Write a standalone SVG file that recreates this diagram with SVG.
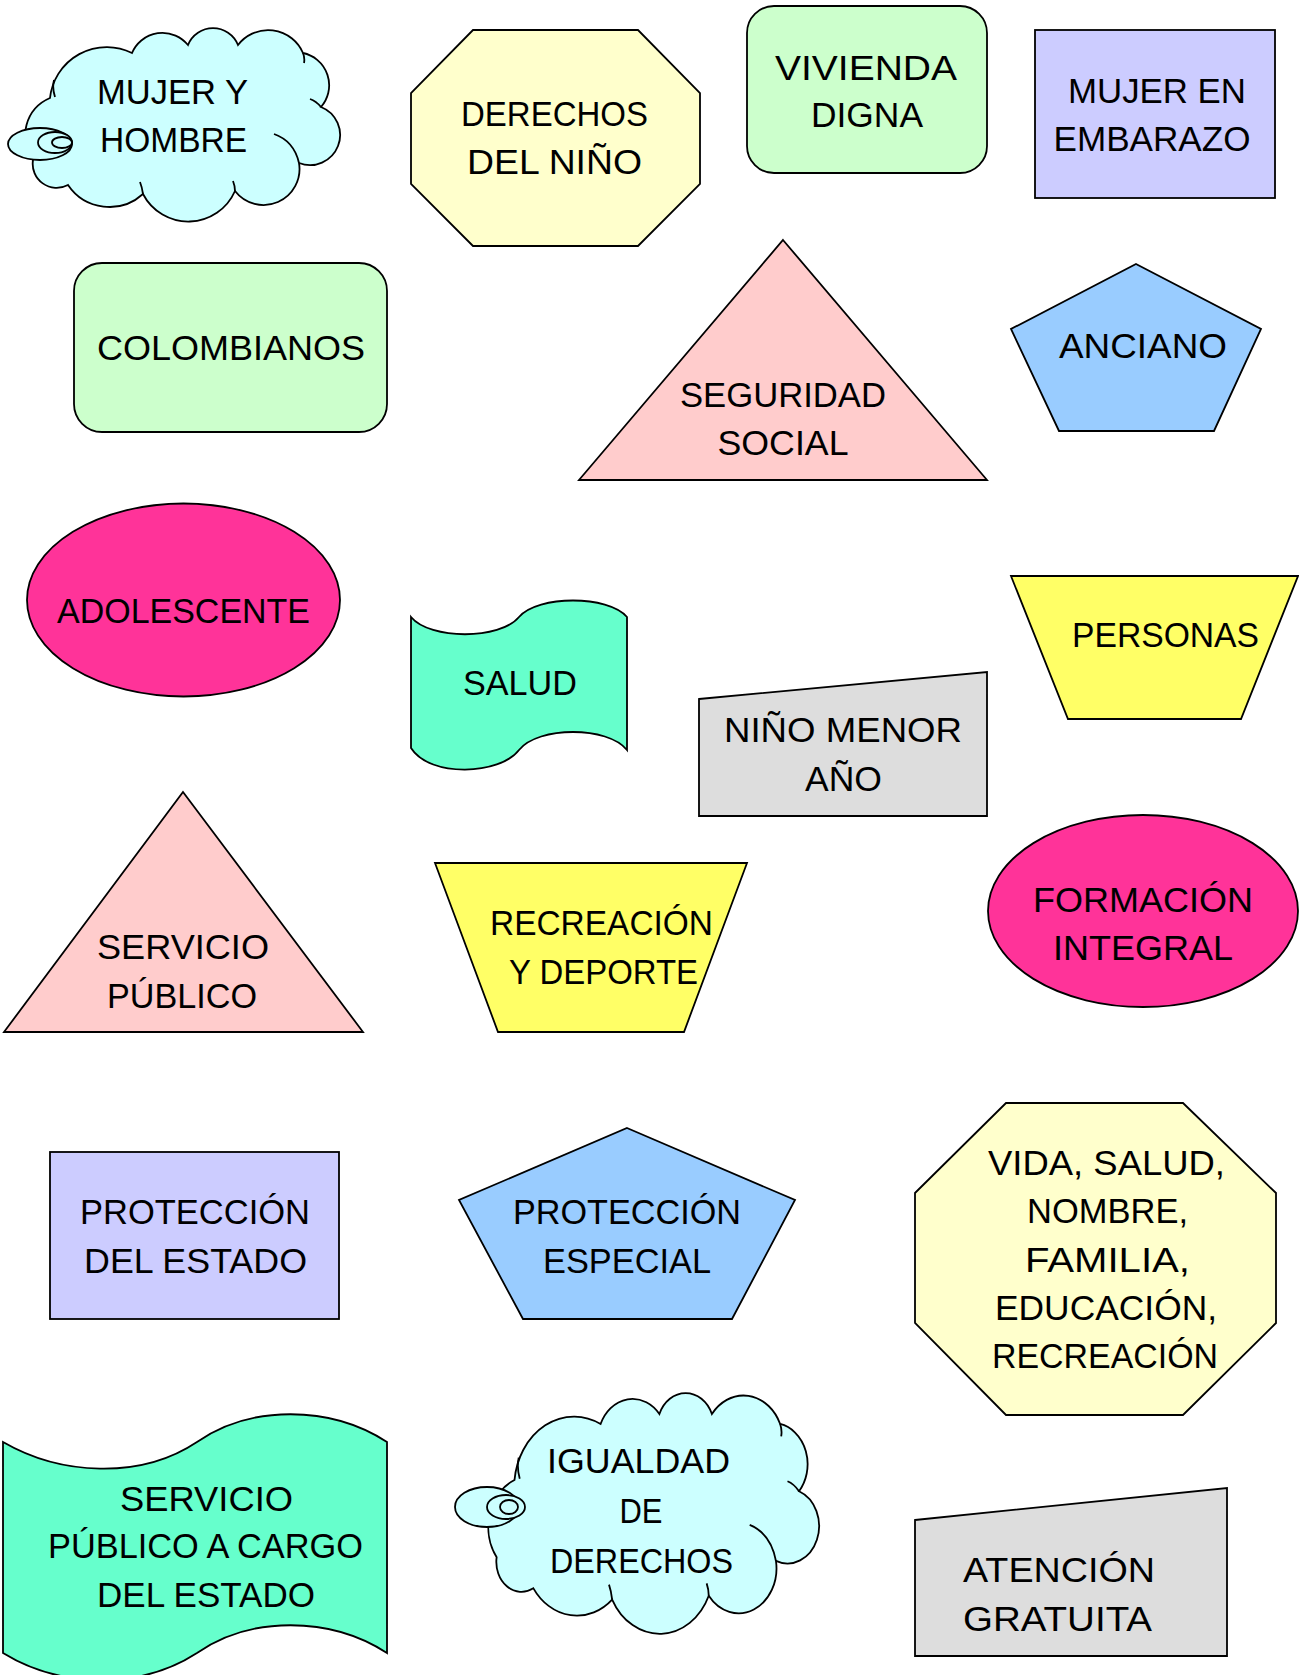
<svg xmlns="http://www.w3.org/2000/svg" width="1299" height="1675" viewBox="0 0 1299 1675">
<defs>
<style>
.s{stroke:#000;stroke-width:1.8;stroke-linejoin:miter}
.ns{vector-effect:non-scaling-stroke}
.cr{fill:none;stroke:#000;stroke-width:1.8}
.cyan{fill:#CCFFFF}
.yel{fill:#FFFFCC}
.grn{fill:#CCFFCC}
.lav{fill:#CCCCFF}
.pink{fill:#FFCCCC}
.blue{fill:#99CCFF}
.mag{fill:#FF3399}
.aqua{fill:#66FFCC}
.ylw{fill:#FFFF66}
.gray{fill:#DDDDDD}
text{font-family:"Liberation Sans",Arial,sans-serif;font-size:35px;fill:#000;text-anchor:middle}
</style>
<g id="cloudShape">
<path class="s ns cyan" d="M 50,98 A 57 57 0 0 1 132,53 A 33 33 0 0 1 188,45 A 27 27 0 0 1 238,45 A 38 38 0 0 1 303,53 A 33 33 0 0 1 321,107 A 30 30 0 0 1 299,163 A 36 36 0 0 1 235,191 A 51 51 0 0 1 143,194 A 50 50 0 0 1 68,185 A 24 24 0 0 1 33,160 A 41 41 0 0 1 50,98 Z"/>
<path class="cr ns" d="M 55,97 Q 52,88 54,80 M 303,53 Q 305,58 304,63 M 321,107 Q 316,101 310,99 M 274,134 Q 294,141 299,163 M 233,181 Q 235,186 235,191 M 143,194 Q 142,187 140,182"/>
</g>
</defs>

<g id="connectors"></g>

<g id="n1">
<use href="#cloudShape"/>
<ellipse class="s cyan" cx="40" cy="144" rx="32" ry="16"/>
<ellipse class="s cyan" cx="55" cy="142.5" rx="17" ry="10.5"/>
<ellipse class="s cyan" cx="62" cy="142.5" rx="10" ry="5.5"/>
<text x="172.5" y="104" textLength="151" lengthAdjust="spacingAndGlyphs">MUJER Y</text>
<text x="173.5" y="152" textLength="147" lengthAdjust="spacingAndGlyphs">HOMBRE</text>
</g>

<g id="n2">
<polygon class="s yel" points="473,30 638,30 700,93 700,184 638,246 473,246 411,184 411,93"/>
<text x="554.5" y="126" textLength="187" lengthAdjust="spacingAndGlyphs">DERECHOS</text>
<text x="554.5" y="174" textLength="175" lengthAdjust="spacingAndGlyphs">DEL NIÑO</text>
</g>

<g id="n3">
<rect class="s grn" x="747" y="6" width="240" height="167" rx="27" ry="27"/>
<text x="866" y="80" textLength="182" lengthAdjust="spacingAndGlyphs">VIVIENDA</text>
<text x="867" y="127" textLength="112" lengthAdjust="spacingAndGlyphs">DIGNA</text>
</g>

<g id="n4">
<rect class="s lav" x="1035" y="30" width="240" height="168"/>
<text x="1157" y="103" textLength="178" lengthAdjust="spacingAndGlyphs">MUJER EN</text>
<text x="1152" y="151" textLength="197" lengthAdjust="spacingAndGlyphs">EMBARAZO</text>
</g>

<g id="n5">
<rect class="s grn" x="74" y="263" width="313" height="169" rx="28" ry="28"/>
<text x="231" y="360" textLength="268" lengthAdjust="spacingAndGlyphs">COLOMBIANOS</text>
</g>

<g id="n6">
<polygon class="s pink" points="783,240 987,480 579,480"/>
<text x="783" y="407" textLength="206" lengthAdjust="spacingAndGlyphs">SEGURIDAD</text>
<text x="783" y="455" textLength="131" lengthAdjust="spacingAndGlyphs">SOCIAL</text>
</g>

<g id="n7">
<polygon class="s blue" points="1136,264 1261,329 1214,431 1059,431 1011,329"/>
<text x="1143" y="358" textLength="168" lengthAdjust="spacingAndGlyphs">ANCIANO</text>
</g>

<g id="n8">
<ellipse class="s mag" cx="183.5" cy="600" rx="156.5" ry="96.5"/>
<text x="183.5" y="623" textLength="253" lengthAdjust="spacingAndGlyphs">ADOLESCENTE</text>
</g>

<g id="n9">
<path class="s aqua" d="M 411,617 C 430,640 500,640 519,617 C 538,595 608,595 627,617 L 627,750 C 608,726 538,726 519,750 C 500,775 430,778 411,748 Z"/>
<text x="520" y="695" textLength="114" lengthAdjust="spacingAndGlyphs">SALUD</text>
</g>

<g id="n10">
<polygon class="s ylw" points="1011,576 1298,576 1241,719 1068,719"/>
<text x="1165.5" y="647" textLength="187" lengthAdjust="spacingAndGlyphs">PERSONAS</text>
</g>

<g id="n11">
<polygon class="s gray" points="699,699 987,672 987,816 699,816"/>
<text x="843" y="742" textLength="238" lengthAdjust="spacingAndGlyphs">NIÑO MENOR</text>
<text x="843.5" y="791" textLength="77" lengthAdjust="spacingAndGlyphs">AÑO</text>
</g>

<g id="n12">
<polygon class="s pink" points="183,792 363,1032 4,1032"/>
<text x="183" y="959" textLength="172" lengthAdjust="spacingAndGlyphs">SERVICIO</text>
<text x="182" y="1008" textLength="150" lengthAdjust="spacingAndGlyphs">PÚBLICO</text>
</g>

<g id="n13">
<polygon class="s ylw" points="435,863 747,863 684,1032 498,1032"/>
<text x="601.5" y="935" textLength="223" lengthAdjust="spacingAndGlyphs">RECREACIÓN</text>
<text x="603.5" y="984" textLength="189" lengthAdjust="spacingAndGlyphs">Y DEPORTE</text>
</g>

<g id="n14">
<ellipse class="s mag" cx="1143" cy="911" rx="155" ry="96"/>
<text x="1143" y="912" textLength="220" lengthAdjust="spacingAndGlyphs">FORMACIÓN</text>
<text x="1143" y="960" textLength="180" lengthAdjust="spacingAndGlyphs">INTEGRAL</text>
</g>

<g id="n15">
<rect class="s lav" x="50" y="1152" width="289" height="167"/>
<text x="195" y="1224" textLength="230" lengthAdjust="spacingAndGlyphs">PROTECCIÓN</text>
<text x="195.5" y="1273" textLength="223" lengthAdjust="spacingAndGlyphs">DEL ESTADO</text>
</g>

<g id="n16">
<polygon class="s blue" points="627,1128 795,1200 732,1319 523,1319 459,1200"/>
<text x="627" y="1224" textLength="228" lengthAdjust="spacingAndGlyphs">PROTECCIÓN</text>
<text x="627" y="1273" textLength="168" lengthAdjust="spacingAndGlyphs">ESPECIAL</text>
</g>

<g id="n17">
<polygon class="s yel" points="1006,1103 1183,1103 1276,1193 1276,1323 1183,1415 1006,1415 915,1323 915,1193"/>
<text x="1106.5" y="1175" textLength="237" lengthAdjust="spacingAndGlyphs">VIDA, SALUD,</text>
<text x="1107.5" y="1223" textLength="161" lengthAdjust="spacingAndGlyphs">NOMBRE,</text>
<text x="1107.5" y="1272" textLength="165" lengthAdjust="spacingAndGlyphs">FAMILIA,</text>
<text x="1106" y="1320" textLength="222" lengthAdjust="spacingAndGlyphs">EDUCACIÓN,</text>
<text x="1105" y="1368" textLength="226" lengthAdjust="spacingAndGlyphs">RECREACIÓN</text>
</g>

<g id="n18">
<path class="s aqua" d="M 3,1442 C 60,1475 140,1480 197,1442 C 250,1405 330,1405 387,1442 L 387,1653 C 330,1616 250,1616 197,1653 C 140,1690 60,1688 3,1653 Z"/>
<text x="206.5" y="1511" textLength="173" lengthAdjust="spacingAndGlyphs">SERVICIO</text>
<text x="205.5" y="1558" textLength="315" lengthAdjust="spacingAndGlyphs">PÚBLICO A CARGO</text>
<text x="206" y="1607" textLength="218" lengthAdjust="spacingAndGlyphs">DEL ESTADO</text>
</g>

<g id="n19">
<use href="#cloudShape" transform="matrix(1.05,0,0,1.245,462,1358)"/>
<ellipse class="s cyan" cx="487" cy="1507" rx="32" ry="20"/>
<ellipse class="s cyan" cx="506" cy="1507" rx="19" ry="12"/>
<ellipse class="s cyan" cx="509" cy="1507" rx="9" ry="7"/>
<text x="638.5" y="1473" textLength="183" lengthAdjust="spacingAndGlyphs">IGUALDAD</text>
<text x="641" y="1523" textLength="43" lengthAdjust="spacingAndGlyphs">DE</text>
<text x="641.5" y="1573" textLength="183" lengthAdjust="spacingAndGlyphs">DERECHOS</text>
</g>

<g id="n20">
<polygon class="s gray" points="915,1520 1227,1488 1227,1656 915,1656"/>
<text x="1059" y="1582" textLength="192" lengthAdjust="spacingAndGlyphs">ATENCIÓN</text>
<text x="1057.5" y="1631" textLength="189" lengthAdjust="spacingAndGlyphs">GRATUITA</text>
</g>
</svg>
